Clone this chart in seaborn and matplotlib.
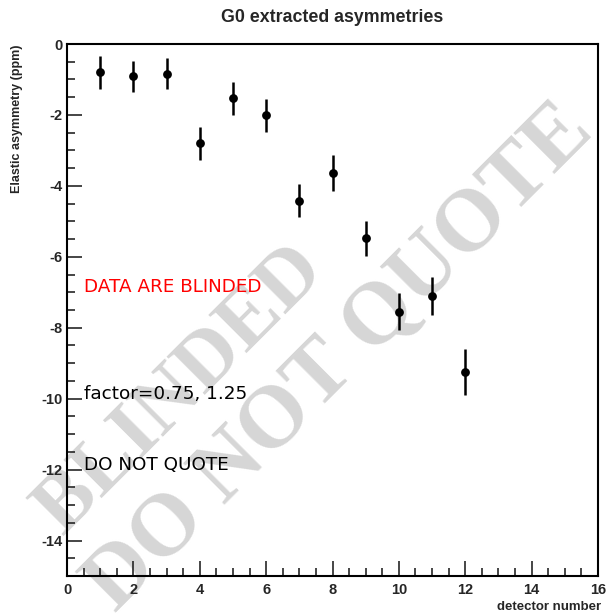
import matplotlib
matplotlib.use("Agg")
import matplotlib.pyplot as plt
from matplotlib.ticker import MultipleLocator
import seaborn as sns
import pandas as pd

detector = [1, 2, 3, 4, 5, 6, 7, 8, 9, 10, 11, 12]
asymmetry = [-0.80, -0.91, -0.84, -2.80, -1.53, -2.01, -4.42, -3.64, -5.48, -7.55, -7.10, -9.25]
error = [0.46, 0.44, 0.44, 0.47, 0.47, 0.46, 0.47, 0.50, 0.49, 0.52, 0.54, 0.64]

df = pd.DataFrame({"detector": detector, "asym": asymmetry, "err": error})

sns.set_style("white")
plt.rcParams['font.family'] = ['Liberation Sans', 'DejaVu Sans']
plt.rcParams['axes.unicode_minus'] = False

fig = plt.figure(figsize=(6.06, 6.14), dpi=100)
ax = fig.add_axes([67/606, 1-576/614, (598-67)/606, (576-44)/614])

# watermark
ax.text(0.215, 0.35, "BLINDED", transform=ax.transAxes, rotation=45,
        fontsize=59, fontweight='bold', family='Liberation Serif', color='#d6d6d6',
        ha='center', va='center', zorder=0)
ax.text(0.515, 0.41, "DO NOT QUOTE", transform=ax.transAxes, rotation=45,
        fontsize=63, fontweight='bold', family='Liberation Serif', color='#d6d6d6',
        ha='center', va='center', zorder=0)

ax.errorbar(df["detector"], df["asym"], yerr=df["err"], fmt='none',
            ecolor='black', elinewidth=1.8, capsize=0, zorder=3)
sns.scatterplot(data=df, x="detector", y="asym", color='black', s=40,
                edgecolor='black', linewidth=0, ax=ax, zorder=4)

ax.set_xlim(0, 16)
ax.set_ylim(-15, 0)
ax.xaxis.set_major_locator(MultipleLocator(2))
ax.xaxis.set_minor_locator(MultipleLocator(0.5))
ax.yaxis.set_major_locator(MultipleLocator(2))
ax.yaxis.set_minor_locator(MultipleLocator(0.5))
ax.tick_params(which='both', direction='in', top=False, right=False,
               bottom=True, left=True, width=1.2, labelsize=10.5)
ax.tick_params(which='major', length=11)
ax.tick_params(which='minor', length=6)
ax.tick_params(axis='x', which='major', pad=5)
ax.tick_params(axis='y', which='major', pad=3.5)
for lab in ax.get_xticklabels() + ax.get_yticklabels():
    lab.set_fontweight('bold')
for sp in ax.spines.values():
    sp.set_linewidth(1.5)
    sp.set_color('black')

ax.set_xlabel("")
ax.set_ylabel("")
fig.text(17/606, 1-119/614, "Elastic asymmetry (ppm)", rotation=90, ha='center', va='center',
         fontsize=9, fontweight='bold')
fig.text(601/606, 1-607/614, "detector number", ha='right', va='center',
         fontsize=9.5, fontweight='bold')
fig.text(332/606, 1-18/614, "G0 extracted asymmetries", ha='center', va='center',
         fontsize=12.8, fontweight='bold')

ax.text(0.5, -6.86, "DATA ARE BLINDED", color='red', fontsize=13.2,
        family='DejaVu Sans', ha='left', va='center', zorder=5)
ax.text(0.5, -9.86, "factor=0.75, 1.25", color='black', fontsize=13.2,
        family='DejaVu Sans', ha='left', va='center', zorder=5)
ax.text(0.5, -11.86, "DO NOT QUOTE", color='black', fontsize=13.2,
        family='DejaVu Sans', ha='left', va='center', zorder=5)

fig.savefig("out.png", dpi=100)
